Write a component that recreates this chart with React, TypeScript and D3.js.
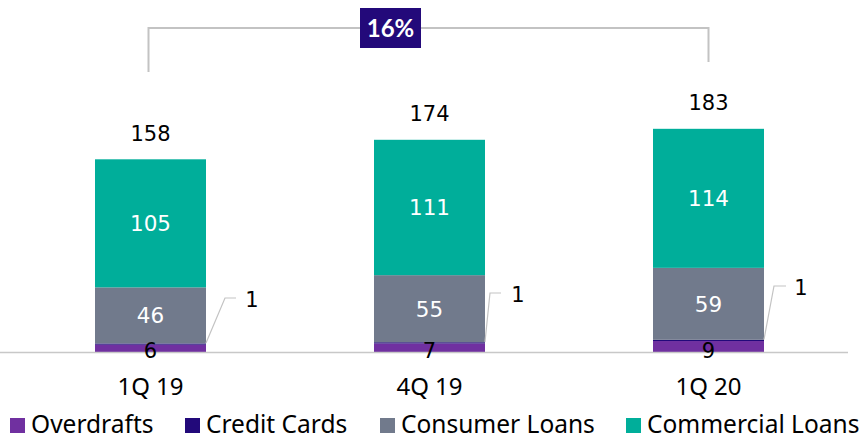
import React from "react";
import * as d3 from "d3";

const categories = ["1Q 19", "4Q 19", "1Q 20"];
const seriesNames = ["Overdrafts", "Credit Cards", "Consumer Loans", "Commercial Loans"];
const overdrafts = [6, 7, 9];
const creditCards = [1, 1, 1];
const consumerLoans = [46, 55, 59];
const commercialLoans = [105, 111, 114];
const totals = [158, 174, 183];
const growthLabel = "16%";

const colors = ["#7030a0", "#22097a", "#717a8c", "#00ae9a"];

const W = 864;
const H = 435;
const baseY = 352;
const numFont = "'DejaVu Sans', sans-serif";
const boxFont = "Lato, sans-serif";
const txtFont = "'Noto Sans', 'Open Sans', sans-serif";

export default function App() {
  const rows = categories.map((c, i) => ({
    cat: c,
    Overdrafts: overdrafts[i],
    "Credit Cards": creditCards[i],
    "Consumer Loans": consumerLoans[i],
    "Commercial Loans": commercialLoans[i],
  }));
  const stack = d3.stack<any>().keys(seriesNames)(rows as any);
  const y = d3.scaleLinear().domain([0, 183]).range([baseY, baseY - 183 * 1.2196]);
  const x = d3.scalePoint<string>().domain(categories).range([150.5, 708.5]);
  const bw = 111;

  const leaderDx = [[19, 30, 46], [5, 16, 33], [10, 22, 37]];
  const leaderTop = [298, 293, 286];

  const legendX = [10, 185, 380, 626];

  return (
    <svg width={W} height={H} style={{ position: "absolute", left: 0, top: 0 }}>
      <rect width={W} height={H} fill="#fff" />
      <path
        d={`M${x(categories[0])! - 2},72 V28 H${x(categories[2])!} V62`}
        fill="none"
        stroke="#c3c3c3"
        strokeWidth={2}
      />
      <rect x={360} y={8} width={61} height={40} fill="#23097a" />
      <text x={390.5} y={37} textAnchor="middle" fill="#fff" fontFamily={boxFont} fontWeight={700} fontSize={24}>
        {growthLabel}
      </text>
      {stack.map((s, si) =>
        s.map((d, i) => (
          <rect
            key={`${si}-${i}`}
            x={x(categories[i])! - bw / 2}
            y={y(d[1])}
            width={bw}
            height={y(d[0]) - y(d[1])}
            fill={colors[si]}
          />
        ))
      )}
      <line x1={0} x2={848} y1={baseY + 0.5} y2={baseY + 0.5} stroke="#c8c8c8" strokeWidth={1.5} />
      {categories.map((c, i) => {
        const cx = x(c)!;
        const com = stack[3][i];
        const con = stack[2][i];
        const cc = stack[1][i];
        const right = cx + bw / 2;
        return (
          <g key={c}>
            <text x={cx} y={y(totals[i]) - 18.5} textAnchor="middle" fontFamily={numFont} fontSize={21} fill="#000">
              {totals[i]}
            </text>
            <text x={cx} y={(y(com[0]) + y(com[1])) / 2 + 8} textAnchor="middle" fontFamily={numFont} fontSize={21.5} fill="#fff">
              {commercialLoans[i]}
            </text>
            <text x={cx} y={(y(con[0]) + y(con[1])) / 2 + 8} textAnchor="middle" fontFamily={numFont} fontSize={21.5} fill="#fff">
              {consumerLoans[i]}
            </text>
            <text x={cx} y={baseY + 6} textAnchor="middle" fontFamily={numFont} fontSize={21} fill="#000">
              {overdrafts[i]}
            </text>
            <path
              d={`M${right},${(y(cc[0]) + y(cc[1])) / 2 - 1} L${right + leaderDx[i][0]},${leaderTop[i]} H${right + leaderDx[i][1]}`}
              fill="none"
              stroke="#c3c3c3"
              strokeWidth={1.2}
            />
            <text x={right + leaderDx[i][2]} y={leaderTop[i] + 9} textAnchor="middle" fontFamily={numFont} fontSize={21} fill="#000">
              {creditCards[i]}
            </text>
            <text x={cx} y={395} textAnchor="middle" fontFamily={txtFont} fontSize={24} fill="#000">
              {c}
            </text>
          </g>
        );
      })}
      {seriesNames.map((n, i) => (
        <g key={n}>
          <rect x={legendX[i]} y={418} width={15} height={15} fill={colors[i]} />
          <text x={legendX[i] + 21} y={432.5} fontFamily={txtFont} fontSize={24.5} fill="#000">
            {n}
          </text>
        </g>
      ))}
    </svg>
  );
}
